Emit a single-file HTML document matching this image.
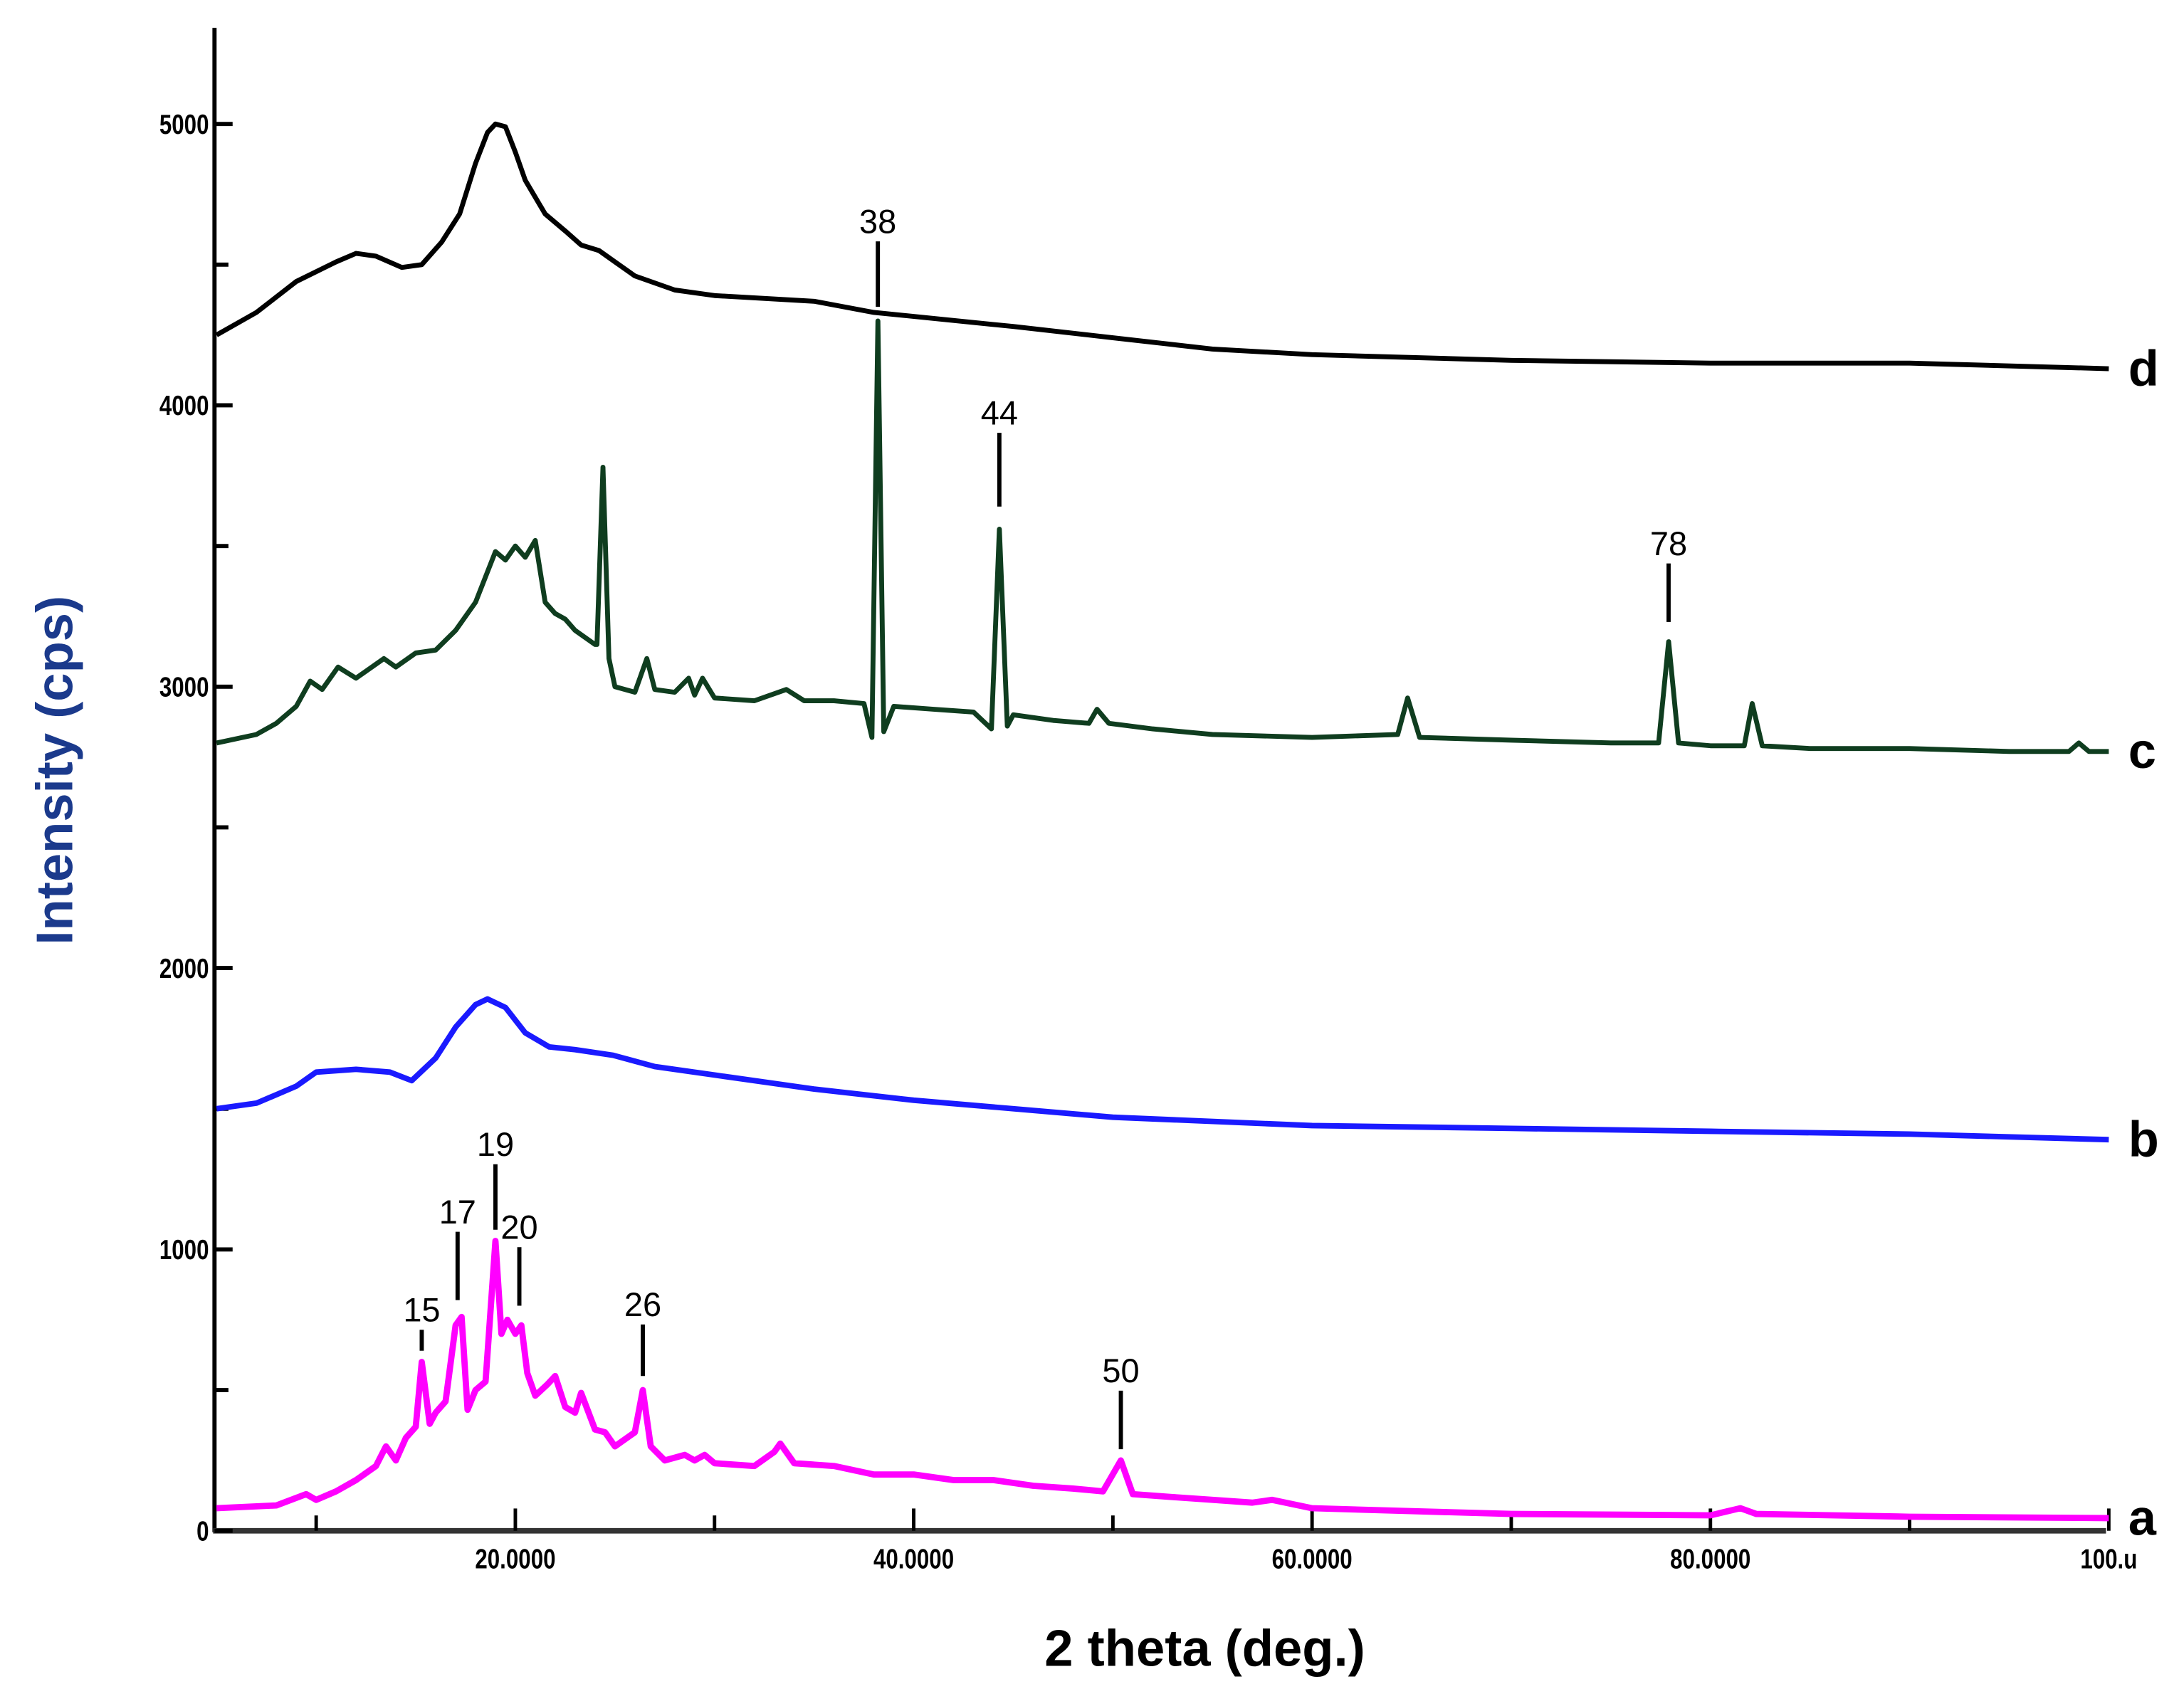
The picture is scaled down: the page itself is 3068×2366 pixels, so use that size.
<!DOCTYPE html>
<html><head><meta charset="utf-8">
<style>
html,body{margin:0;padding:0;background:#fff;}
svg{display:block;}
text{font-family:"Liberation Sans",sans-serif;}
</style></head>
<body>
<svg id="chart" width="3068" height="2366" viewBox="0 0 1568 1209" preserveAspectRatio="none" xmlns="http://www.w3.org/2000/svg">
<g id="axes"></g>
<g id="series"></g>
<g id="labels"></g>
<text x="0" y="0" transform="translate(52,553) rotate(-90)" text-anchor="middle" font-size="37" font-weight="bold" fill="#1b3a8c">Intensity (cps)</text>
<text x="865" y="1196" text-anchor="middle" font-size="37" font-weight="bold" fill="#000">2 theta (deg.)</text>
</svg>
<script>
const xTicks=[20,40,60,80,100];
const xTickLabels=["20.0000","40.0000","60.0000","80.0000","100.u"];
const xMinor=[10,30,50,70,90];
const yTicks=[0,1000,2000,3000,4000,5000];
const yMinor=[500,1500,2500,3500,4500];
const seriesNames=["a","b","c","d"];
const seriesColors=["#ff00ff","#1a1aff","#0f3d1f","#000000"];
const aX=[5,8,9.5,10,11,12,13,13.5,14,14.5,15,15.3,15.7,16,16.5,17,17.3,17.6,18,18.5,19,19.3,19.6,20,20.3,20.6,21,21.6,22,22.5,23,23.3,24,24.5,25,26,26.4,26.8,27.5,28.5,29,29.5,30,32,33,33.3,34,36,38,40,42,44,46,48,49.5,50.4,51,53,55,57,58,60,65,70,80,81.5,82.3,90,100];
const aY=[80,90,130,110,140,180,230,300,250,330,370,600,380,420,460,730,760,430,500,530,1030,700,750,700,730,560,480,520,550,440,420,490,360,350,300,350,500,300,250,270,250,270,240,230,280,310,240,230,200,200,180,180,160,150,140,250,130,120,110,100,110,80,70,60,55,80,60,50,45];
const bX=[5,7,9,10,12,13.7,14.8,16,17,18,18.6,19.5,20.5,21.7,23,24.9,27,30,35,40,45,50,60,70,80,90,100];
const bY=[1500,1520,1580,1630,1640,1630,1600,1680,1790,1870,1890,1860,1770,1720,1710,1690,1650,1620,1570,1530,1500,1470,1440,1430,1420,1410,1390];
const cX=[5,7,8,9,9.7,10.3,11.1,12,13.4,14,15,16,17,18,19,19.5,20,20.5,21,21.5,22,22.5,23,24,24.1,24.4,24.7,25,26,26.6,27,28,28.7,29,29.4,30,32,33.6,34.5,36,37.5,37.9,38.2,38.5,39,41,43,43.9,44.3,44.7,45,47,48.8,49.2,49.8,52,55,60,64.3,64.8,65.4,70,75,77.4,77.9,78.4,80,81.7,82.1,82.6,85,90,95,98,98.5,99,100];
const cY=[2800,2830,2870,2930,3020,2990,3070,3030,3100,3070,3120,3130,3200,3300,3480,3450,3500,3460,3520,3300,3260,3240,3200,3150,3150,3780,3100,3000,2980,3100,2990,2980,3030,2970,3030,2960,2950,2990,2950,2950,2940,2820,4300,2840,2930,2920,2910,2850,3560,2860,2900,2880,2870,2920,2870,2850,2830,2820,2830,2960,2820,2810,2800,2800,3160,2800,2790,2790,2940,2790,2780,2780,2770,2770,2800,2770,2770];
const dX=[5,7,9,11,12,13,14.3,15.3,16.3,17.2,18,18.6,19,19.5,20,20.5,21.5,22.5,23.3,24.2,25,26,28,30,35,38,45,50,55,60,70,80,90,100];
const dY=[4250,4330,4440,4510,4540,4530,4490,4500,4580,4680,4860,4970,5000,4990,4900,4800,4680,4620,4570,4550,4510,4460,4410,4390,4370,4330,4280,4240,4200,4180,4160,4150,4150,4130];
const peakLabels=["15","17","19","20","26","50","38","44","78"];
const peakX=[15.3,17.1,19,20.2,26.4,50.4,38.2,44.3,77.9];
const peakTopCps=[640,820,1070,800,550,290,4350,3640,3230];
const peakBarLen=[15,49,47,42,37,42,47,53,42];

const NS="http://www.w3.org/2000/svg";
const X0=154, Y0=1099, XPU=14.3, YPC=0.202;
function sx(v){return 370+(v-20)*XPU;}
function sy(v){return Y0-v*YPC;}
function mk(tag,attrs,parent){const e=document.createElementNS(NS,tag);for(const k in attrs)e.setAttribute(k,attrs[k]);parent.appendChild(e);return e;}
const axes=document.getElementById('axes');
let e=mk('line',{x1:X0,y1:20,x2:X0,y2:Y0+1,stroke:'#000','stroke-width':3},axes);


e=mk('line',{x1:X0-1,y1:Y0,x2:1512,y2:Y0,stroke:'#333','stroke-width':4},axes);


yTicks.forEach(v=>{
  const t=mk('line',{x1:X0,y1:sy(v),x2:X0+13,y2:sy(v),stroke:'#000','stroke-width':3},axes);
  
  
  const l=mk('text',{x:X0-4,y:sy(v)+7,'text-anchor':'end','font-size':20,'font-weight':'bold',transform:`translate(${(X0-4)*0.2},0) scale(0.8,1)`},axes);
  l.textContent=String(v);
  
  
});
yMinor.forEach(v=>{
  const t=mk('line',{x1:X0,y1:sy(v),x2:X0+10,y2:sy(v),stroke:'#000','stroke-width':3},axes);
  
  
});
xTicks.forEach((v,i)=>{
  const t=mk('line',{x1:sx(v),y1:Y0,x2:sx(v),y2:Y0-16,stroke:'#000','stroke-width':2.5},axes);
  
  
  const l=mk('text',{x:sx(v),y:Y0+27,'text-anchor':'middle','font-size':20,'font-weight':'bold',transform:`translate(${sx(v)*0.2},0) scale(0.8,1)`},axes);
  l.textContent=xTickLabels[i];
  
  
});
xMinor.forEach(v=>{
  const t=mk('line',{x1:sx(v),y1:Y0,x2:sx(v),y2:Y0-11,stroke:'#000','stroke-width':2.5},axes);
  
  
});
const sg=document.getElementById('series');
const allX=[aX,bX,cX,dX], allY=[aY,bY,cY,dY];
const widths=[4.5,4,3.5,3.5];
seriesNames.forEach((n,i)=>{
  const pts=allX[i].map((x,j)=>sx(x).toFixed(1)+','+sy(allY[i][j]).toFixed(1)).join(' ');
  const p=mk('polyline',{points:pts,fill:'none',stroke:seriesColors[i],'stroke-width':widths[i],'stroke-linejoin':'round'},sg);
  
  
  const last=allY[i][allY[i].length-1];
  const t=mk('text',{x:1528,y:sy(last)+12,'font-size':36,'font-weight':'bold',fill:'#000'},sg);
  t.textContent=n;
  
  
});
const lg=document.getElementById('labels');
peakLabels.forEach((s,i)=>{
  const x=sx(peakX[i]), yb=sy(peakTopCps[i]), yt=yb-peakBarLen[i];
  const b=mk('line',{x1:x,y1:yb,x2:x,y2:yt,stroke:'#000','stroke-width':3},lg);
  
  
  const t=mk('text',{x:x,y:yt-6,'text-anchor':'middle','font-size':24,fill:'#000'},lg);
  t.textContent=s;
  
  
});
</script>
</body></html>
